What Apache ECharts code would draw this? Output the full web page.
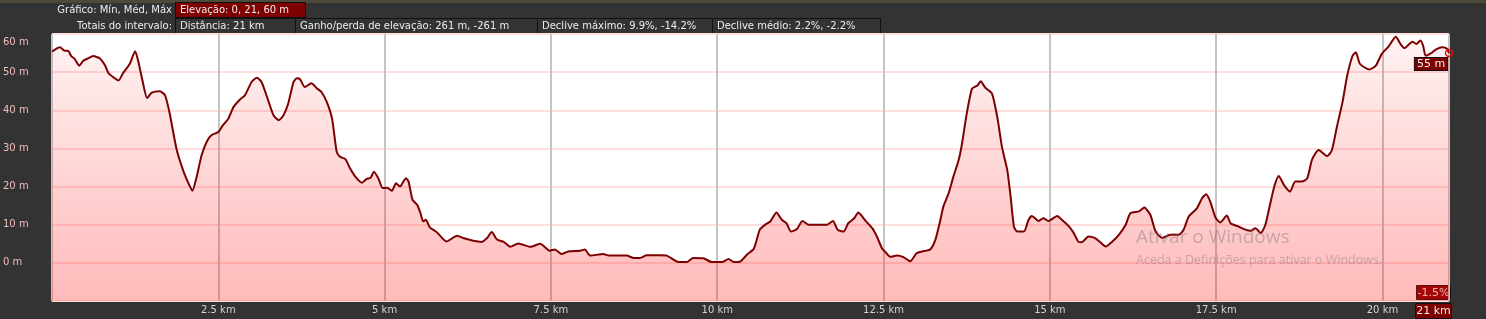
<!DOCTYPE html>
<html><head><meta charset="utf-8">
<script src="https://cdn.jsdelivr.net/npm/echarts@6/dist/echarts.min.js"></script>
<style>html,body{margin:0;padding:0;background:#333;}#c{width:1486px;height:319px;}</style>
</head><body><div id="c"></div>
<script>
const dist = [0.00,0.12,0.19,0.24,0.29,0.34,0.41,0.47,0.54,0.62,0.72,0.80,0.85,0.92,1.00,1.07,1.17,1.25,1.30,1.36,1.43,1.50,1.62,1.70,1.77,1.87,1.97,2.05,2.11,2.17,2.25,2.33,2.40,2.50,2.57,2.65,2.73,2.83,2.90,3.00,3.08,3.15,3.25,3.33,3.41,3.48,3.55,3.63,3.68,3.73,3.80,3.90,3.98,4.05,4.13,4.21,4.28,4.33,4.41,4.48,4.56,4.66,4.73,4.79,4.84,4.91,4.97,5.04,5.11,5.17,5.23,5.32,5.36,5.42,5.49,5.54,5.58,5.62,5.68,5.78,5.93,6.09,6.18,6.33,6.46,6.54,6.61,6.69,6.79,6.89,7.01,7.19,7.34,7.48,7.56,7.66,7.76,7.94,8.01,8.09,8.29,8.37,8.64,8.74,8.84,8.94,9.14,9.24,9.42,9.54,9.64,9.79,9.92,10.07,10.17,10.25,10.35,10.45,10.55,10.64,10.72,10.80,10.89,10.97,11.04,11.11,11.20,11.28,11.37,11.50,11.65,11.74,11.81,11.90,11.97,12.06,12.12,12.23,12.33,12.40,12.48,12.53,12.60,12.70,12.80,12.90,13.00,13.08,13.20,13.28,13.35,13.40,13.48,13.55,13.63,13.68,13.75,13.83,13.91,13.96,14.03,14.13,14.21,14.28,14.36,14.41,14.46,14.51,14.61,14.68,14.73,14.83,14.90,14.98,15.11,15.18,15.28,15.36,15.43,15.48,15.58,15.68,15.76,15.84,15.94,16.04,16.14,16.21,16.34,16.42,16.51,16.59,16.69,16.81,16.94,17.01,17.09,17.21,17.29,17.35,17.41,17.49,17.56,17.66,17.72,17.84,17.94,18.02,18.09,18.17,18.24,18.32,18.38,18.44,18.52,18.61,18.69,18.79,18.87,18.94,19.04,19.17,19.24,19.32,19.40,19.47,19.55,19.60,19.66,19.80,19.90,19.99,20.09,20.20,20.27,20.33,20.45,20.51,20.57,20.61,20.65,20.75,20.80,20.90,20.97,21.00];
const elev = [55.4,56.5,55.6,55.6,54.2,53.5,51.7,53.0,53.6,54.2,53.6,51.7,49.7,48.7,47.8,49.8,52.2,55.5,52.6,47.8,43.2,44.6,45.0,43.9,39.1,30.0,24.3,20.9,18.9,22.2,28.3,31.9,33.5,34.3,36.1,37.8,40.9,42.9,43.9,47.4,48.5,47.4,42.6,38.7,37.4,38.7,41.7,47.4,48.4,48.1,46.1,47.1,45.8,44.8,42.2,37.8,29.1,27.8,27.2,24.8,22.6,21.0,22.0,22.3,23.9,22.0,19.6,19.7,18.9,20.9,20.0,22.2,21.3,16.5,15.2,13.0,10.9,11.3,9.3,8.1,5.6,7.1,6.5,5.8,5.5,6.5,8.1,6.1,5.5,4.2,5.1,4.2,5.0,3.2,3.5,2.3,3.0,3.2,3.5,1.9,2.3,1.9,1.9,1.3,1.3,2.0,2.0,1.9,0.2,0.2,1.3,1.2,0.2,0.2,1.0,0.2,0.4,2.2,3.7,8.7,10.0,10.9,13.2,11.3,10.4,8.2,8.9,11.0,10.0,10.0,10.0,11.0,8.7,8.2,10.4,11.7,13.2,11.0,9.1,6.9,3.7,2.8,1.6,1.9,1.5,0.4,2.6,3.0,3.5,6.1,10.9,14.8,18.3,22.6,27.0,31.3,39.1,45.7,46.5,47.6,45.9,44.4,38.2,30.4,24.3,17.4,9.5,8.2,8.2,11.3,12.3,11.0,11.7,11.0,12.3,11.3,9.7,7.8,5.5,5.4,6.9,6.5,5.4,4.3,5.6,7.4,10.0,13.0,13.5,14.5,12.6,8.2,6.5,7.4,7.4,8.7,12.2,14.3,17.0,18.0,16.1,11.9,10.6,12.4,10.3,9.5,8.7,8.4,9.1,7.8,10.0,16.1,20.4,22.8,20.4,18.7,21.3,21.3,22.2,27.0,29.6,28.0,29.6,36.1,42.2,49.1,54.3,55.2,52.2,50.7,51.7,54.8,56.7,59.3,57.4,56.3,58.0,57.4,58.3,57.0,54.3,55.2,55.9,56.5,56.1,55.0];
const yTicks = [-10, 0, 10, 20, 30, 40, 50, 60];
const xTickStep = 2.5;
const headerRow1Label = 'Gráfico: Mín, Méd, Máx';
const headerRow1Box = 'Elevação: 0, 21, 60 m';
const headerRow2Label = 'Totais do intervalo:';
const headerRow2Boxes = ['Distância: 21 km', 'Ganho/perda de elevação: 261 m, -261 m', 'Declive máximo: 9.9%, -14.2%', 'Declive médio: 2.2%, -2.2%'];
const endLabel = '55 m';
const endSlope = '-1.5%';
const endDist = '21 km';

const FONT = 'DejaVu Sans';
const chart = echarts.init(document.getElementById('c'), null, {renderer: 'canvas'});

const seriesData = dist.map((d, i) => {
  if (i === dist.length - 1) {
    return {
      value: [d, elev[i]],
      symbol: 'circle', symbolSize: 7,
      itemStyle: {color: 'rgba(0,0,0,0)', borderColor: '#e01010', borderWidth: 1.5},
      label: {
        show: true, formatter: endLabel, position: 'inside', offset: [-18, 11],
        color: '#f0f0f0', fontFamily: FONT, fontSize: 11,
        backgroundColor: '#7f0000', borderColor: '#111', borderWidth: 1,
        padding: [1, 2, 0, 2]
      }
    };
  }
  return [d, elev[i]];
});

function box(x, y, w, h, fill, text, center) {
  return {
    type: 'group', x: x, y: y, children: [
      {type: 'rect', shape: {x: 0.5, y: 0.5, width: w, height: h}, style: {fill: fill, stroke: '#111', lineWidth: 1}},
      {type: 'text', x: center ? w / 2 + 0.5 : 5, y: h / 2 + 1, style: {text: text, fill: '#ececec', font: (center ? '11px "' : '10px "') + FONT + '"', align: center ? 'center' : 'left', verticalAlign: 'middle'}}
    ]
  };
}

const boxXs = [175, 295, 537, 712, 880];
const graphics = [
  {type: 'rect', shape: {x: 0, y: 0, width: 1486, height: 3}, style: {fill: '#4d4a3a'}},
  {type: 'text', x: 172, y: 10, style: {text: headerRow1Label, fill: '#ececec', font: '10px "' + FONT + '"', align: 'right', verticalAlign: 'middle'}},
  box(175, 2, 130, 15, '#7f0000', headerRow1Box),
  {type: 'text', x: 172, y: 26, style: {text: headerRow2Label, fill: '#ececec', font: '10px "' + FONT + '"', align: 'right', verticalAlign: 'middle'}},
];
headerRow2Boxes.forEach((t, i) => {
  graphics.push(box(boxXs[i], 18, boxXs[i + 1] - boxXs[i], 15, '#333333', t));
});
graphics.push(box(1416, 285, 34, 14, '#7f0000', endSlope, true));
graphics.push(box(1415, 303, 36, 15, '#7f0000', endDist, true));
graphics.push({type: 'text', x: 1136, y: 238, z: 100, style: {text: 'Ativar o Windows', fill: 'rgba(120,120,120,0.42)', font: '19px "Open Sans"', verticalAlign: 'middle'}});
graphics.push({type: 'text', x: 1136, y: 260, z: 100, style: {text: 'Aceda a Definições para ativar o Windows.', fill: 'rgba(120,120,120,0.42)', font: '12.5px "Open Sans"', verticalAlign: 'middle'}});

chart.setOption({
  backgroundColor: '#333333',
  animation: false,
  grid: {left: 52, right: 37, top: 34, bottom: 18, show: true, backgroundColor: '#ffffff', borderColor: '#9a9a9a', borderWidth: 1, outerBoundsMode: 'none'},
  xAxis: {
    type: 'value', min: 0, max: 21, interval: xTickStep,
    axisLine: {show: false}, axisTick: {show: false},
    axisLabel: {show: true, showMinLabel: false, showMaxLabel: false, margin: 4, color: '#d4d4d4', fontFamily: FONT, fontSize: 10,
      formatter: v => (v > 0 && v < 21) ? (v + ' km') : ''},
    splitLine: {show: true, lineStyle: {color: '#c4c4c4', width: 2}}
  },
  yAxis: {
    type: 'value', min: yTicks[0], max: yTicks[yTicks.length - 1], interval: 10,
    axisLine: {show: false}, axisTick: {show: false},
    axisLabel: {show: true, align: 'left', margin: 49, color: '#f2bcbc', fontFamily: FONT, fontSize: 10,
      formatter: v => v === 60 ? '{top|60 m}' : (v < 0 ? '' : v + ' m'),
      rich: {top: {color: '#f2bcbc', fontFamily: FONT, fontSize: 10, padding: [17, 0, 0, 0]}}},
    splitLine: {show: true, lineStyle: {color: '#ffdede', width: 2}}
  },
  series: [{
    type: 'line', data: seriesData, smooth: 0.2, showSymbol: true, symbol: 'none',
    lineStyle: {color: '#7d0000', width: 2},
    areaStyle: {
      origin: 'start',
      color: new echarts.graphic.LinearGradient(0, 0, 0, 1, [
        {offset: 0, color: 'rgba(255,20,20,0.08)'},
        {offset: 1, color: 'rgba(255,20,20,0.42)'}
      ])
    },
    z: 2
  }],
  graphic: graphics
});
</script></body></html>
